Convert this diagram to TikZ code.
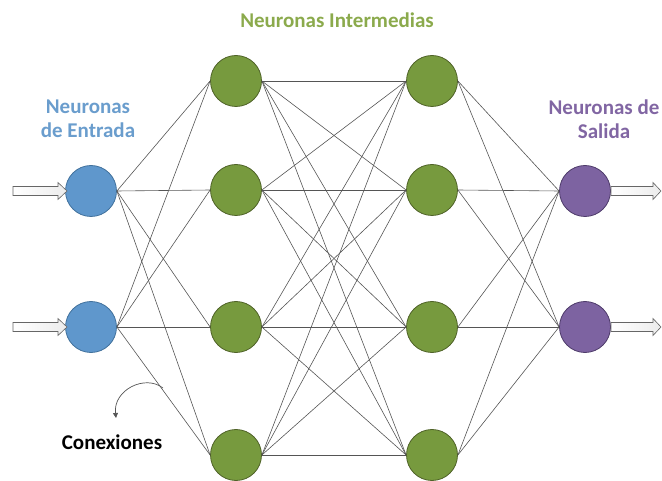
\documentclass[tikz,border=0pt]{standalone}
\usepackage{fontspec}
\setmainfont{Carlito}
\usetikzlibrary{arrows.meta}
\definecolor{inblue}{HTML}{5F97CC}
\definecolor{inblueline}{HTML}{41719C}
\definecolor{hidgreen}{HTML}{779A3E}
\definecolor{hidgreenline}{HTML}{4F6228}
\definecolor{outpurple}{HTML}{7D63A1}
\definecolor{outpurpleline}{HTML}{4E3B6A}
\definecolor{lblblue}{HTML}{6A9DCD}
\definecolor{lblgreen}{HTML}{8BAA4C}
\definecolor{lblpurple}{HTML}{8166A3}
\definecolor{wire}{HTML}{555555}
\tikzset{
  neuron/.style={circle, minimum size=51pt, inner sep=0pt, line width=0.8pt},
  inneuron/.style={neuron, fill=inblue, draw=inblueline},
  hidneuron/.style={neuron, fill=hidgreen, draw=hidgreenline},
  outneuron/.style={neuron, fill=outpurple, draw=outpurpleline},
  wiring/.style={draw=wire, line width=0.6pt},
  blockarrow/.style={draw=gray!80!black, line width=0.6pt, left color=white, right color=gray!15},
  heading/.style={font=\bfseries\fontsize{21}{24}\selectfont, align=center}
}
\begin{document}
\begin{tikzpicture}[x=1pt,y=-1pt]
\useasboundingbox (0,0) rectangle (662,481);

% input layer
\node[inneuron] (a1) at (91,191) {};
\node[inneuron] (a2) at (91,327) {};
% first hidden layer
\node[hidneuron] (b1) at (236,81) {};
\node[hidneuron] (b2) at (236,190) {};
\node[hidneuron] (b3) at (236,327) {};
\node[hidneuron] (b4) at (236,455) {};
% second hidden layer
\node[hidneuron] (c1) at (432,81) {};
\node[hidneuron] (c2) at (432,190) {};
\node[hidneuron] (c3) at (432,327) {};
\node[hidneuron] (c4) at (432,455) {};
% output layer
\node[outneuron] (d1) at (585,191) {};
\node[outneuron] (d2) at (585,327) {};

% full connections between consecutive layers
\foreach \s in {1,2}
  \foreach \t in {1,2,3,4}
    \draw[wiring] (a\s.east) -- (b\t.west);
\foreach \s in {1,2,3,4}
  \foreach \t in {1,2,3,4}
    \draw[wiring] (b\s.east) -- (c\t.west);
\foreach \s in {1,2,3,4}
  \foreach \t in {1,2}
    \draw[wiring] (c\s.east) -- (d\t.west);

% input block arrows
\foreach \y in {191,327}
  \draw[blockarrow] (13,\y-4.5) -- (58,\y-4.5) -- (58,\y-8.5) -- (67,\y) -- (58,\y+8.5)
    -- (58,\y+4.5) -- (13,\y+4.5) -- cycle;
% output block arrows
\foreach \y in {191,327}
  \draw[blockarrow] (611,\y-4.5) -- (653,\y-4.5) -- (653,\y-8.5) -- (661,\y) -- (653,\y+8.5)
    -- (653,\y+4.5) -- (611,\y+4.5) -- cycle;

% labels
\node[heading, text=lblgreen] (tmid) at (337,20) {Neuronas Intermedias};
\node[heading, text=lblblue] (tin) at (88,119) {Neuronas\\de Entrada};
\node[heading, text=lblpurple] (tout) at (604,119) {Neuronas de\\Salida};
\node[heading, text=black] (tcon) at (112,442) {Conexiones};

% pointer to a connection
\coordinate (cstart) at (163,388);
\coordinate (cend) at (116,418);
\draw[draw=wire, line width=0.7pt, -{Triangle[length=5pt,width=5pt]}]
  (cstart) .. controls (145,374) and (113,390) .. (cend);
\end{tikzpicture}
\end{document}
